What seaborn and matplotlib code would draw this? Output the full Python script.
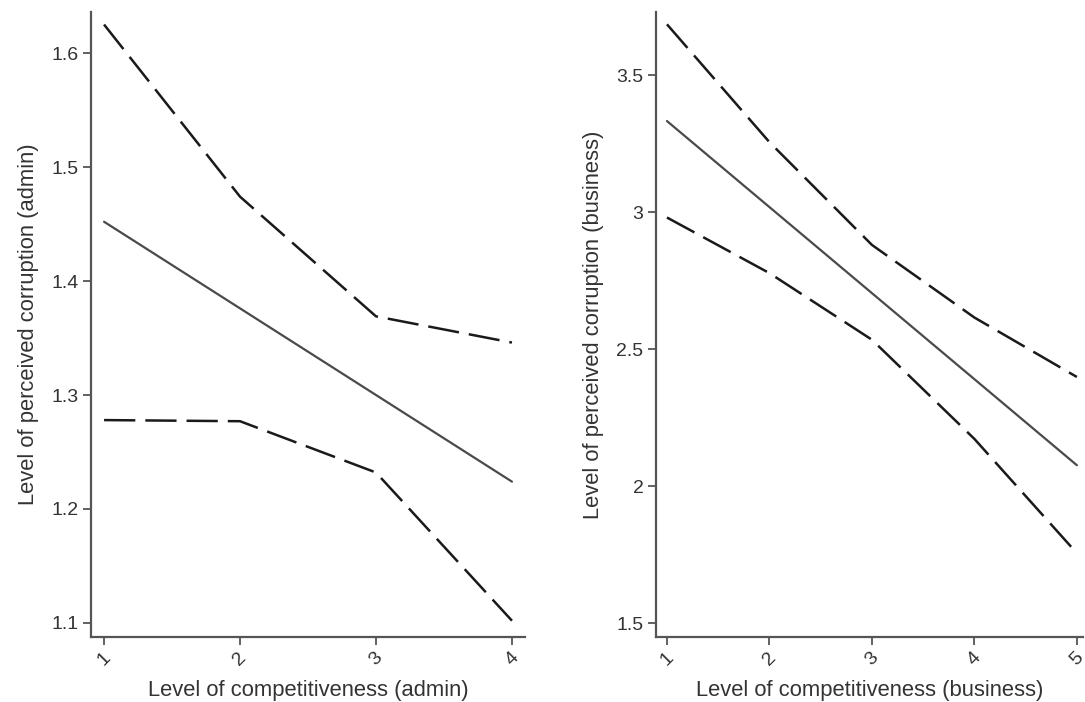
import matplotlib
matplotlib.use("Agg")
import matplotlib.pyplot as plt
import seaborn as sns
import pandas as pd

# Left panel (admin)
admin_x = [1, 2, 3, 4]
admin_fit = [1.452, 1.376, 1.300, 1.224]
admin_upper = [1.625, 1.474, 1.369, 1.346]
admin_lower = [1.278, 1.277, 1.232, 1.102]
admin_yticks = [1.1, 1.2, 1.3, 1.4, 1.5, 1.6]
admin_yticklabels = ["1.1", "1.2", "1.3", "1.4", "1.5", "1.6"]

# Right panel (business)
bus_x = [1, 2, 3, 4, 5]
bus_fit = [3.332, 3.018, 2.704, 2.390, 2.076]
bus_upper = [3.685, 3.255, 2.880, 2.615, 2.398]
bus_lower = [2.980, 2.777, 2.534, 2.172, 1.755]
bus_yticks = [1.5, 2.0, 2.5, 3.0, 3.5]
bus_yticklabels = ["1.5", "2", "2.5", "3", "3.5"]

sns.set_theme(style="white")
plt.rcParams["font.family"] = ["Liberation Sans", "DejaVu Sans"]

fig = plt.figure(figsize=(10.85, 7.02), dpi=100)
ax1 = fig.add_axes([91 / 1085, 1 - 637 / 702, (525 - 91) / 1085, (637 - 12) / 702])
ax2 = fig.add_axes([656 / 1085, 1 - 637 / 702, (1083 - 656) / 1085, (637 - 12) / 702])

spine_c = "#555555"
text_c = "#333333"
fit_c = "#4a4a4a"
ci_c = "#1a1a1a"


def draw(ax, x, fit, up, lo, xlim, ylim, yticks, yticklabels, xlabel, ylabel):
    sns.lineplot(x=x, y=fit, ax=ax, color=fit_c, linewidth=1.6)
    for band in (up, lo):
        sns.lineplot(x=x, y=band, ax=ax, color=ci_c, linewidth=1.8)
        ax.lines[-1].set_dashes((12.5, 4))
    ax.set_xlim(*xlim)
    ax.set_ylim(*ylim)
    ax.set_xticks(x)
    ax.set_xticklabels([str(v) for v in x], rotation=45, ha="center", va="top")
    ax.set_yticks(yticks)
    ax.set_yticklabels(yticklabels)
    ax.set_xlabel(xlabel, fontsize=15.8, color=text_c, labelpad=8)
    ax.set_ylabel(ylabel, fontsize=15.8, color=text_c, labelpad=9)
    for s in ("top", "right"):
        ax.spines[s].set_visible(False)
    for s in ("left", "bottom"):
        ax.spines[s].set_color(spine_c)
        ax.spines[s].set_linewidth(1.6)
    ax.tick_params(axis="both", which="both", direction="out", length=6, width=1.3,
                   color=spine_c, labelcolor=text_c, labelsize=14, left=True, bottom=True, pad=3)
    ax.grid(False)


draw(ax1, admin_x, admin_fit, admin_upper, admin_lower, (0.904, 4.096), (1.0877, 1.636),
     admin_yticks, admin_yticklabels,
     "Level of competitiveness (admin)", "Level of perceived corruption (admin)")
draw(ax2, bus_x, bus_fit, bus_upper, bus_lower, (0.893, 5.06), (1.449, 3.73),
     bus_yticks, bus_yticklabels,
     "Level of competitiveness (business)", "Level of perceived corruption (business)")

fig.savefig("out.png", dpi=100, facecolor="white")
